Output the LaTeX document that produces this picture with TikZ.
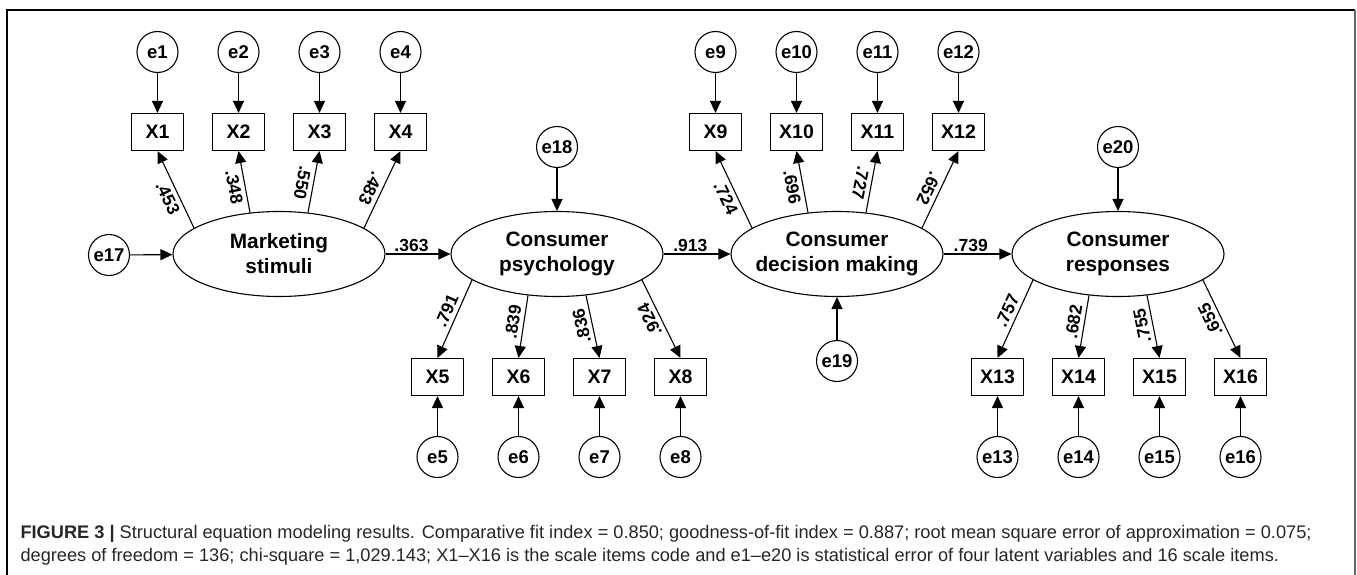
\documentclass[tikz,border=0pt]{standalone}
\usepackage{fontspec}
\setmainfont{Liberation Sans}
\usetikzlibrary{arrows.meta,shapes.geometric}

\tikzset{
    latent/.style={draw, ellipse, minimum width=212pt, minimum height=85pt, inner xsep=-25pt, inner ysep=0pt, align=center, font=\fontsize{20.8}{25}\selectfont\bfseries},
    item/.style={draw, rectangle, minimum width=52pt, minimum height=37pt, inner sep=0pt, font=\fontsize{19.5}{19.5}\selectfont\bfseries},
    err/.style={draw, circle, minimum size=41pt, inner sep=0pt, font=\fontsize{18.5}{18.5}\selectfont\bfseries},
    coef/.style={font=\fontsize{17.5}{17.5}\selectfont\bfseries, inner sep=4pt},
    capt/.style={inner sep=0pt, text=black!85, font=\fontsize{18.2}{18.2}\selectfont},
}

\begin{document}
\begin{tikzpicture}[x=1pt, y=-1pt, line width=1.1pt, >={Triangle[length=12pt, width=11pt]}]
    \useasboundingbox (0,0) rectangle (1357,575);
    \draw[line width=1.2pt] (7,575) -- (7,10) -- (1355,10);
    \draw[line width=1.2pt, black!60] (1355,10) -- (1355,575);

    \node[latent] (ms) at (279,254) {Marketing\\stimuli};
    \node[latent] (cp) at (557,254) {Consumer\\psychology};
    \node[latent] (cd) at (837,254) {Consumer\\decision making};
    \node[latent] (cr) at (1118,254) {Consumer\\responses};

    % indicators above the latent
    \foreach \n/\a/\c [count=\k from 0] in {1/163/.453, 2/125/.348, 3/55/.550, 4/17/.483} {
        \node[item] (x\n) at (157.5 + 81*\k, 132) {X\n};
        \node[err] (e\n) at (157.5 + 81*\k, 52) {e\n};
        \draw[->] (e\n) -- (x\n);
        \draw[<-] (x\n.south) -- node[coef, sloped, allow upside down, below, pos=.55] {\c} (ms.\a);
    }
    \foreach \n/\a/\c [count=\k from 0] in {9/163/.724, 10/125/.696, 11/55/.727, 12/17/.652} {
        \node[item] (x\n) at (715.5 + 81*\k, 132) {X\n};
        \node[err] (e\n) at (715.5 + 81*\k, 52) {e\n};
        \draw[->] (e\n) -- (x\n);
        \draw[<-] (x\n.south) -- node[coef, sloped, allow upside down, below, pos=.55] {\c} (cd.\a);
    }

    % indicators below the latent
    \foreach \n/\a/\c [count=\k from 0] in {5/197/.791, 6/235/.839, 7/305/.836, 8/343/.924} {
        \node[item] (x\n) at (437.5 + 81*\k, 377) {X\n};
        \node[err] (e\n) at (437.5 + 81*\k, 457) {e\n};
        \draw[->] (e\n) -- (x\n);
        \draw[<-] (x\n.north) -- node[coef, sloped, allow upside down, above, pos=.55] {\c} (cp.\a);
    }
    \foreach \n/\a/\c [count=\k from 0] in {13/197/.757, 14/235/.682, 15/305/.755, 16/343/.655} {
        \node[item] (x\n) at (997.5 + 81*\k, 377) {X\n};
        \node[err] (e\n) at (997.5 + 81*\k, 457) {e\n};
        \draw[->] (e\n) -- (x\n);
        \draw[<-] (x\n.north) -- node[coef, sloped, allow upside down, above, pos=.55] {\c} (cr.\a);
    }

    % disturbances
    \node[err] (e17) at (109,255) {e17};
    \node[err] (e18) at (557,147) {e18};
    \node[err] (e19) at (837,361) {e19};
    \node[err] (e20) at (1118,147) {e20};
    \draw[->] (e17) -- (ms);
    \draw[->] (e18) -- (cp);
    \draw[->] (e19) -- (cd);
    \draw[->] (e20) -- (cr);

    % structural paths
    \draw[->] (ms) -- node[coef, above, pos=.4, inner sep=2pt] {.363} (cp);
    \draw[->] (cp) -- node[coef, above, pos=.4, inner sep=2pt] {.913} (cd);
    \draw[->] (cd) -- node[coef, above, pos=.4, inner sep=2pt] {.739} (cr);

    \node[capt, anchor=base west] (cap1) at (20,538) {\textbf{FIGURE 3 |} Structural equation modeling results. Comparative fit index = 0.850; goodness-of-fit index = 0.887; root mean square error of approximation = 0.075;};
    \node[capt, anchor=base west] (cap2) at (20,561) {degrees of freedom = 136; chi-square = 1,029.143; X1–X16 is the scale items code and e1–e20 is statistical error of four latent variables and 16 scale items.};
\end{tikzpicture}
\end{document}
